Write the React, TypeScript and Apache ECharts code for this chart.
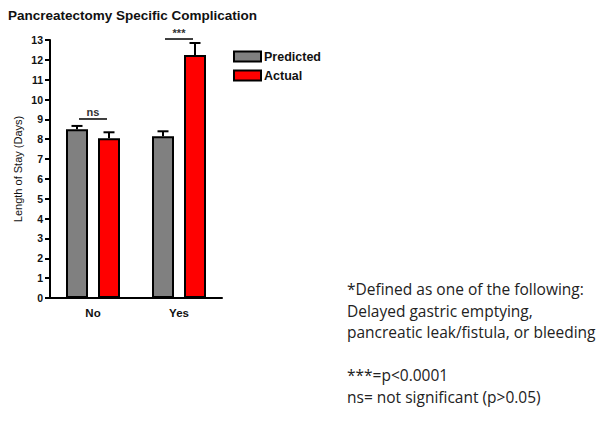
import React, { useEffect, useRef } from "react";
import * as echarts from "echarts";

const categories = ["No", "Yes"];
const predicted = [8.5, 8.15];
const predictedErr = [0.17, 0.25];
const actual = [8.05, 12.25];
const actualErr = [0.3, 0.6];
const sigLabels = ["ns", "***"];
const sigLevels = [9.02, 13.05];
const yTicksMax = 13;
const noteLines = [
  "*Defined as one of the following:",
  "Delayed gastric emptying,",
  "pancreatic leak/fistula, or bleeding",
  "",
  "***=p<0.0001",
  "ns= not significant (p>0.05)",
];

const BAR_W = 22;
const GAP = 10;

export default function App() {
  const ref = useRef<HTMLDivElement>(null);
  useEffect(() => {
    const chart = echarts.init(ref.current!, null, { renderer: "svg" });
    const off = (BAR_W + GAP) / 2;
    const errRender = (sign: number) => (params: any, api: any) => {
      const ci = api.value(0);
      const v = api.value(1);
      const e = api.value(2);
      const base = api.coord([ci, v]);
      const top = api.coord([ci, v + e]);
      const x = base[0] + sign * off;
      return {
        type: "group",
        children: [
          { type: "line", shape: { x1: x, y1: base[1], x2: x, y2: top[1] }, style: { stroke: "#000", lineWidth: 2 } },
          { type: "line", shape: { x1: x - 5.5, y1: top[1], x2: x + 5.5, y2: top[1] }, style: { stroke: "#000", lineWidth: 2 } },
        ],
      };
    };
    chart.setOption({
      animation: false,
      textStyle: { fontFamily: "Liberation Sans" },
      grid: { left: 50, right: 392, top: 40, bottom: 128, containLabel: false },
      title: {
        text: "Pancreatectomy Specific Complication",
        left: 8,
        top: 8,
        padding: 0,
        textStyle: { fontSize: 13.5, fontWeight: "bold", color: "#111", fontFamily: "Liberation Sans" },
      },
      legend: {
        orient: "vertical",
        left: 233,
        top: 50,
        padding: 0,
        itemWidth: 27,
        itemHeight: 10,
        itemGap: 6,
        icon: "rect",
        data: ["Predicted", "Actual"],
        textStyle: { fontSize: 12.5, fontWeight: "bold", color: "#111", padding: [0, 0, 0, -2] },
      },
      xAxis: {
        type: "category",
        data: categories,
        axisLine: { lineStyle: { color: "#000", width: 2 } },
        axisTick: { show: false },
        axisLabel: { fontSize: 11.5, fontWeight: "bold", color: "#111", margin: 9 },
      },
      yAxis: {
        type: "value",
        min: 0,
        max: yTicksMax,
        interval: 1,
        name: "Length of Stay (Days)",
        nameLocation: "middle",
        nameGap: 27,
        nameTextStyle: { fontSize: 11, color: "#111" },
        axisLine: { show: true, lineStyle: { color: "#000", width: 2 } },
        axisTick: { show: true, length: 5, lineStyle: { color: "#000", width: 2 } },
        axisLabel: { fontSize: 10.5, fontWeight: "bold", color: "#111", margin: 7 },
        splitLine: { show: false },
      },
      series: [
        {
          name: "Predicted",
          type: "bar",
          data: predicted,
          barWidth: BAR_W,
          barGap: (GAP / BAR_W) * 100 + "%",
          itemStyle: { color: "#808080", borderColor: "#000", borderWidth: 2 },
        },
        {
          name: "Actual",
          type: "bar",
          data: actual,
          barWidth: BAR_W,
          itemStyle: { color: "#ff0000", borderColor: "#000", borderWidth: 2 },
        },
        {
          type: "custom",
          renderItem: errRender(-1),
          data: predicted.map((v, i) => [i, v, predictedErr[i]]),
          z: 1,
          silent: true,
        },
        {
          type: "custom",
          renderItem: errRender(1),
          data: actual.map((v, i) => [i, v, actualErr[i]]),
          z: 1,
          silent: true,
        },
        {
          type: "custom",
          silent: true,
          clip: false,
          data: sigLevels.map((v, i) => [i, v, sigLabels[i]]),
          renderItem: (params: any, api: any) => {
            const ci = api.value(0);
            const p = api.coord([ci, api.value(1)]);
            const label = sigLabels[params.dataIndex];
            return {
              type: "group",
              children: [
                { type: "line", shape: { x1: p[0] - 14, y1: p[1], x2: p[0] + 14, y2: p[1] }, style: { stroke: "#000", lineWidth: 1.5 } },
                {
                  type: "text",
                  style: {
                    text: label,
                    x: p[0],
                    y: p[1] - 1,
                    textAlign: "center",
                    textVerticalAlign: "bottom",
                    fontSize: 11,
                    fontWeight: "bold",
                    fill: "#333",
                    fontFamily: "Liberation Sans",
                  },
                },
              ],
            };
          },
        },
      ],
      graphic: noteLines.map((t, i) => ({
        type: "text",
        left: 347,
        top: 281 + i * 21.6,
        style: { text: t, fontSize: 15.5, fill: "#222", fontFamily: "Open Sans" },
      })),
    });
    return () => chart.dispose();
  }, []);
  return <div ref={ref} style={{ position: "absolute", left: 0, top: 0, width: 614, height: 426 }} />;
}
